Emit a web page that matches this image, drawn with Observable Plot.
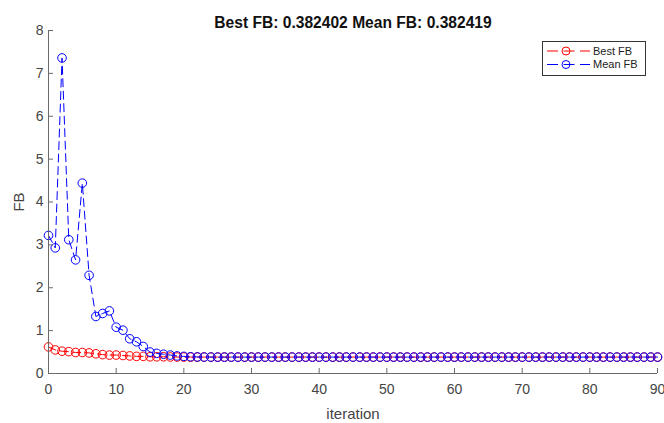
<!DOCTYPE html>
<html><head><meta charset="utf-8">
<script src="https://cdn.jsdelivr.net/npm/d3@7"></script>
<script src="https://cdn.jsdelivr.net/npm/@observablehq/plot@0.6"></script>
<style>
body{margin:0;background:#fff;font-family:"Liberation Sans",Arial,sans-serif;}
#wrap{position:relative;width:664px;height:423px;}
#legend{position:absolute;left:542px;top:41px;}
</style></head><body><div id="wrap"></div>
<script>
const iteration = [0,1,2,3,4,5,6,7,8,9,10,11,12,13,14,15,16,17,18,19,20,
21,22,23,24,25,26,27,28,29,30,31,32,33,34,35,36,37,38,39,40,
41,42,43,44,45,46,47,48,49,50,51,52,53,54,55,56,57,58,59,60,
61,62,63,64,65,66,67,68,69,70,71,72,73,74,75,76,77,78,79,80,
81,82,83,84,85,86,87,88,89,90];
const bestFB = [0.62,0.55,0.52,0.51,0.49,0.49,0.48,0.46,0.44,0.43,0.43,0.42,0.41,0.40,0.40,0.39,0.39,0.39,0.386,0.384,0.383,
0.3826,0.3825,0.3825,0.3824,0.3824,0.3824,0.3824,0.3824,0.3824,0.3824,0.3824,0.3824,0.3824,0.3824,0.3824,0.3824,0.3824,0.3824,0.3824,0.3824,
0.3824,0.3824,0.3824,0.3824,0.3824,0.3824,0.3824,0.3824,0.3824,0.3824,0.3824,0.3824,0.3824,0.3824,0.3824,0.3824,0.3824,0.3824,0.3824,0.3824,
0.3824,0.3824,0.3824,0.3824,0.3824,0.3824,0.3824,0.3824,0.3824,0.3824,0.3824,0.3824,0.3824,0.3824,0.3824,0.3824,0.3824,0.3824,0.3824,0.3824,
0.3824,0.3824,0.3824,0.3824,0.3824,0.3824,0.3824,0.3824,0.3824,0.3824];
const meanFB = [3.22,2.93,7.36,3.12,2.65,4.44,2.29,1.33,1.40,1.46,1.08,1.01,0.81,0.74,0.63,0.50,0.47,0.45,0.43,0.41,0.40,
0.39,0.386,0.384,0.383,0.3826,0.3825,0.3825,0.3824,0.3824,0.3824,0.3824,0.3824,0.3824,0.3824,0.3824,0.3824,0.3824,0.3824,0.3824,0.3824,
0.3824,0.3824,0.3824,0.3824,0.3824,0.3824,0.3824,0.3824,0.3824,0.3824,0.3824,0.3824,0.3824,0.3824,0.3824,0.3824,0.3824,0.3824,0.3824,0.3824,
0.3824,0.3824,0.3824,0.3824,0.3824,0.3824,0.3824,0.3824,0.3824,0.3824,0.3824,0.3824,0.3824,0.3824,0.3824,0.3824,0.3824,0.3824,0.3824,0.3824,
0.3824,0.3824,0.3824,0.3824,0.3824,0.3824,0.3824,0.3824,0.3824,0.3824];
const xTicks = [0,10,20,30,40,50,60,70,80,90];
const yTicks = [0,1,2,3,4,5,6,7,8];
const seriesNames = ["Best FB","Mean FB"];
const seriesColors = ["#ff0000","#0000ff"];
const titleText = "Best FB: 0.382402 Mean FB: 0.382419";
const xLabel = "iteration";
const yLabel = "FB";

const bestRows = iteration.map((it,i)=>({it, v: bestFB[i]}));
const meanRows = iteration.map((it,i)=>({it, v: meanFB[i]}));
const axisColor = "#6a6a6a";
const textColor = "#444";
const font = "'Liberation Sans', Arial, sans-serif";

const plot = Plot.plot({
  width: 664, height: 423,
  marginLeft: 48, marginRight: 7, marginTop: 30, marginBottom: 50,
  style: {fontFamily: font, fontSize: "14px", color: textColor, background: "#fff", overflow: "visible"},
  x: {domain: [0, 90]},
  y: {domain: [0, 8]},
  marks: [
    Plot.line(bestRows, {x: "it", y: "v", stroke: seriesColors[0], strokeWidth: 1, strokeDasharray: "8,4.5"}),
    Plot.dot(bestRows, {x: "it", y: "v", stroke: seriesColors[0], r: 4.3, strokeWidth: 1, fill: "none"}),
    Plot.line(meanRows, {x: "it", y: "v", stroke: seriesColors[1], strokeWidth: 1, strokeDasharray: "8,4.5"}),
    Plot.dot(meanRows, {x: "it", y: "v", stroke: seriesColors[1], r: 4.3, strokeWidth: 1, fill: "none"}),
    Plot.ruleX([0], {stroke: axisColor, strokeWidth: 1}),
    Plot.ruleY([0], {stroke: axisColor, strokeWidth: 1}),
    Plot.axisX({ticks: xTicks, tickSize: -5, tickPadding: 16, stroke: axisColor, fill: textColor,
      label: null, fontSize: 14}),
    Plot.axisY({ticks: yTicks, tickSize: -5, tickPadding: 10, stroke: axisColor, fill: textColor,
      label: null, fontSize: 14}),
    Plot.axisX({ticks: [], tickSize: 0, label: xLabel, labelAnchor: "center", labelOffset: 45, labelArrow: "none", fontSize: 15, fill: textColor}),
    Plot.axisY({ticks: [], tickSize: 0, label: yLabel, labelAnchor: "center", labelOffset: 35, labelArrow: "none", fontSize: 15, fill: textColor}),
    Plot.text([titleText], {text: d => d, frameAnchor: "top", dy: -14, fontWeight: "bold", fontSize: 15.6, fill: "#111"})
  ]
});
const wrap = document.getElementById("wrap");
wrap.appendChild(plot);

// legend
const lg = d3.select(wrap).append("div").attr("id", "legend")
  .append("svg").attr("width", 105).attr("height", 36);
lg.append("rect").attr("x", 0.5).attr("y", 0.5).attr("width", 103).attr("height", 34)
  .attr("fill", "#fff").attr("stroke", "#333").attr("stroke-width", 1);
seriesNames.forEach((name, i) => {
  const y = 10 + i * 13.5;
  const g = lg.append("g");
  g.append("line").attr("x1", 5).attr("x2", 48).attr("y1", y).attr("y2", y)
    .attr("stroke", seriesColors[i]).attr("stroke-dasharray", "11,5.5").attr("stroke-width", 1);
  g.append("circle").attr("cx", 24).attr("cy", y).attr("r", 4).attr("fill", "none")
    .attr("stroke", seriesColors[i]).attr("stroke-width", 1);
  g.append("text").attr("x", 51).attr("y", y).attr("dy", "0.35em").attr("font-size", 11)
    .attr("font-family", font).attr("fill", "#222").text(name);
});
</script></body></html>
